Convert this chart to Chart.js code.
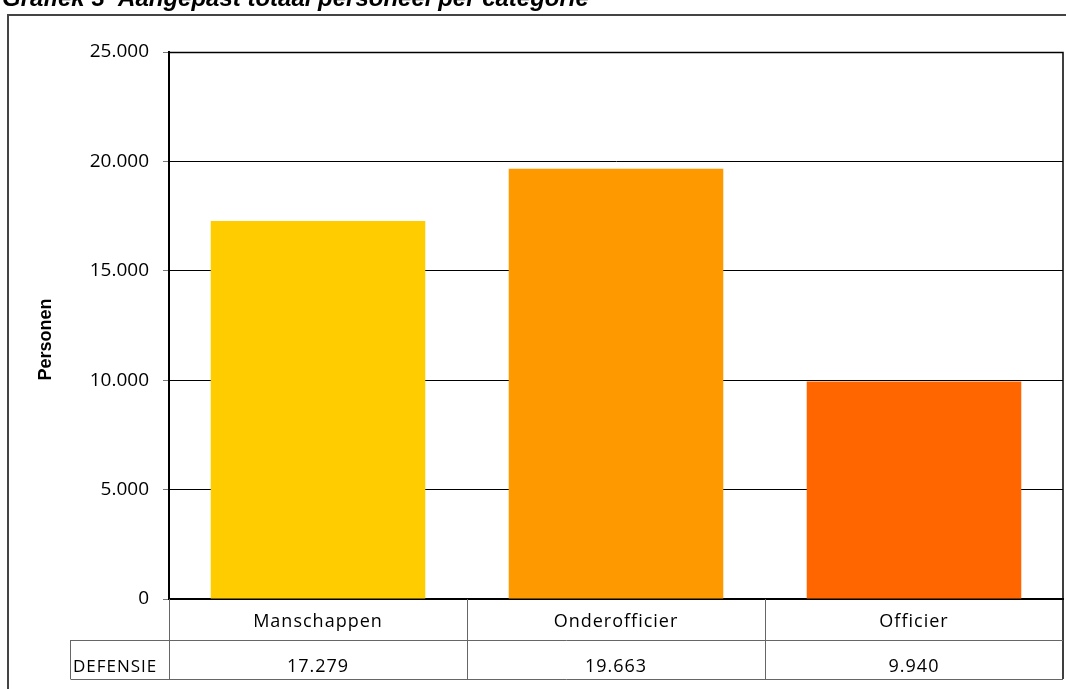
<!DOCTYPE html>
<html>
<head>
<meta charset="utf-8">
<script src="https://cdn.jsdelivr.net/npm/chart.js@4.4.1/dist/chart.umd.min.js"></script>
<style>
    html, body { margin: 0; padding: 0; background: #fff; }
    #wrap { width: 1066px; height: 689px; position: relative; }
</style>
</head>
<body>
<div id="wrap"><canvas id="barChart" width="1066" height="689"></canvas></div>
<script>
// chart data
var categories = ['Manschappen', 'Onderofficier', 'Officier'];
var defensie = [17279, 19663, 9940];
var barColors = ['#FFCC00', '#FF9900', '#FF6600'];
var rowLabel = 'DEFENSIE';
var yTicks = [0, 5000, 10000, 15000, 20000, 25000];
var yTitle = 'Personen';
var chartTitle = 'Grafiek 3  Aangepast totaal personeel per categorie';

function fmt(v) {
    // dutch thousands separator
    return String(v).replace(/\B(?=(\d{3})+(?!\d))/g, '.');
}

// draws frame, title, axis title and the data table under the bars
var tablePlugin = {
    id: 'dataTable',
    afterDraw: function(chart) {
        var ctx = chart.ctx;
        var area = chart.chartArea;
        var x = chart.scales.x;
        var colW = x.width / categories.length;
        var row1 = area.bottom + 41, row2 = area.bottom + 80;
        ctx.save();

        // outer frame (cut off right and bottom)
        ctx.strokeStyle = '#444';
        ctx.lineWidth = 2;
        ctx.beginPath();
        ctx.moveTo(8, 689);
        ctx.lineTo(8, 15);
        ctx.lineTo(1066, 15);
        ctx.stroke();

        // title, mostly above the page
        ctx.fillStyle = '#000';
        ctx.font = 'italic bold 24px "Liberation Sans", Arial, sans-serif';
        ctx.textAlign = 'left';
        ctx.textBaseline = 'alphabetic';
        ctx.fillText(chartTitle, 2, 6);

        // plot border top and right
        ctx.strokeStyle = '#000';
        ctx.lineWidth = 1.5;
        ctx.beginPath();
        ctx.moveTo(area.left, area.top + 0.5);
        ctx.lineTo(area.right, area.top + 0.5);
        ctx.lineTo(area.right, row2);
        ctx.stroke();

        // table grid
        ctx.strokeStyle = '#666';
        ctx.lineWidth = 1;
        ctx.beginPath();
        for (var i = 0; i < categories.length; i++) {
            var lx = Math.round(area.left + i * colW) + 0.5;
            ctx.moveTo(lx, area.bottom);
            ctx.lineTo(lx, row2);
        }
        ctx.moveTo(70.5, row1 + 0.5);
        ctx.lineTo(area.right, row1 + 0.5);
        ctx.moveTo(70.5, row2 + 0.5);
        ctx.lineTo(area.right, row2 + 0.5);
        ctx.moveTo(70.5, row1);
        ctx.lineTo(70.5, row2);
        ctx.stroke();

        // table text
        ctx.fillStyle = '#000';
        ctx.textBaseline = 'middle';
        ctx.textAlign = 'center';
        ctx.font = '18px "Open Sans", "Noto Sans", sans-serif';
        ctx.letterSpacing = '1px';
        for (var j = 0; j < categories.length; j++) {
            var cx = area.left + (j + 0.5) * colW;
            ctx.fillText(categories[j], cx, area.bottom + 23);
            ctx.fillText(fmt(defensie[j]), cx, row1 + 27);
        }
        ctx.textAlign = 'left';
        ctx.font = '17px "Open Sans", "Noto Sans", sans-serif';
        ctx.fillText(rowLabel, 73, row1 + 27);

        // y axis title
        ctx.letterSpacing = '0px';
        ctx.translate(46, (area.top + area.bottom) / 2 + 14);
        ctx.rotate(-Math.PI / 2);
        ctx.textAlign = 'center';
        ctx.font = 'bold 18px "Liberation Sans", Arial, sans-serif';
        ctx.fillText(yTitle, 0, 0);
        ctx.restore();
    }
};

var ctx = document.getElementById('barChart').getContext('2d');
new Chart(ctx, {
    type: 'bar',
    data: {
        labels: categories,
        datasets: [{
            label: rowLabel,
            data: defensie,
            backgroundColor: barColors,
            borderWidth: 0,
            barPercentage: 0.72,
            categoryPercentage: 1
        }]
    },
    options: {
        responsive: false,
        animation: false,
        layout: { padding: { top: 52, right: 3, left: 0, bottom: 0 } },
        plugins: {
            legend: { display: false },
            tooltip: { enabled: false }
        },
        scales: {
            x: {
                grid: { display: false },
                ticks: { display: false },
                border: { color: '#000', width: 2 },
                afterFit: function(scale) { scale.height = 90; }
            },
            y: {
                min: 0,
                max: 25000,
                afterBuildTicks: function(scale) {
                    scale.ticks = yTicks.map(function(v) { return { value: v }; });
                },
                ticks: {
                    color: '#000',
                    padding: 14,
                    font: { family: '"Open Sans", "Noto Sans", sans-serif', size: 19 },
                    callback: function(v) { return fmt(v); }
                },
                grid: {
                    color: '#000',
                    lineWidth: 1,
                    tickLength: 6,
                    tickColor: '#777'
                },
                border: { color: '#000', width: 2 },
                afterFit: function(scale) { scale.width = 169; }
            }
        }
    },
    plugins: [tablePlugin]
});
</script>
</body>
</html>
